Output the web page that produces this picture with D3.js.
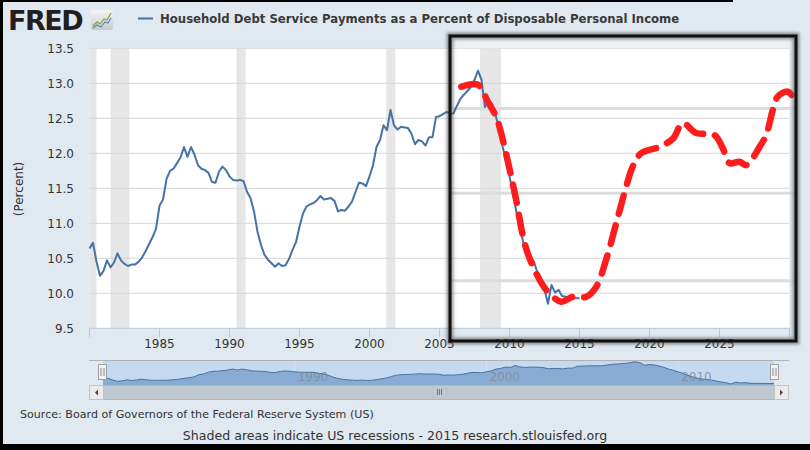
<!DOCTYPE html>
<html>
<head>
<meta charset="utf-8">
<script src="https://cdn.jsdelivr.net/npm/d3@7"></script>
<style>
    body { margin: 0; background: #e1e9f0; }
    svg { display: block; }
    text { font-family: "DejaVu Sans", Verdana, sans-serif; }
</style>
</head>
<body>
<script>
'use strict';

// quarterly observations, 1980 Q1 .. 2015 Q1
var startYear = 1980;
var debtService = [
    10.64, 10.72, 10.45, 10.25,
    10.32, 10.47, 10.37, 10.44,
    10.57, 10.47, 10.42, 10.39,
    10.41, 10.41, 10.45, 10.51,
    10.60, 10.70, 10.80, 10.92,
    11.25, 11.34, 11.63, 11.75,
    11.78, 11.86, 11.94, 12.09,
    11.95, 12.09, 11.98, 11.83,
    11.78, 11.76, 11.72, 11.59,
    11.58, 11.74, 11.81, 11.76,
    11.67, 11.62, 11.61, 11.62,
    11.60, 11.45, 11.36, 11.17,
    10.88, 10.69, 10.55, 10.48,
    10.43, 10.38, 10.43, 10.39,
    10.40, 10.49, 10.62, 10.73,
    10.95, 11.14, 11.24, 11.27,
    11.29, 11.33, 11.39, 11.34,
    11.35, 11.36, 11.32, 11.17,
    11.19, 11.18, 11.24, 11.31,
    11.45, 11.58, 11.57, 11.53,
    11.67, 11.83, 12.09, 12.19,
    12.40, 12.33, 12.62, 12.40,
    12.34, 12.38, 12.37, 12.36,
    12.28, 12.13, 12.19, 12.17,
    12.11, 12.23, 12.23, 12.52,
    12.53, 12.56, 12.59, 12.57,
    12.57, 12.68, 12.78, 12.84,
    12.89, 12.95, 13.05, 13.18,
    13.05, 12.66, 12.76, 12.71,
    12.55, 12.35, 12.10, 11.90,
    11.67, 11.42, 11.15, 10.92,
    10.72, 10.60, 10.52, 10.45,
    10.29, 10.15, 10.05, 9.85,
    10.12, 10.01, 10.05, 9.96,
    9.95, 9.94, 9.93, 9.93,
    9.93
];

// hand drawn projection over the chart
var projectionYears = [2006.55, 2007.74, 2008.45, 2009.05, 2009.4, 2010.12, 2010.48, 2011.14,
    2011.9, 2012.62, 2013.69, 2014.52, 2015.48, 2016.19, 2016.9, 2017.62, 2018.33, 2018.8,
    2019.4, 2020.7, 2021.67, 2022.38, 2023.33, 2024.64, 2025.24, 2025.71, 2026.43, 2026.9,
    2027.86, 2028.33, 2028.81, 2029.16, 2029.88, 2030.4];
var projectionValues = [12.95, 12.98, 12.74, 12.52, 12.29, 11.67, 11.33, 10.67,
    10.29, 10.05, 9.88, 9.95, 9.95, 10.09, 10.48, 11.0, 11.52, 11.81,
    12.0, 12.09, 12.21, 12.43, 12.29, 12.26, 12.07, 11.86, 11.88, 11.83,
    12.09, 12.26, 12.62, 12.81, 12.88, 12.76];

// faint lines of the pasted overlay
var overlayGuides = [12.64, 11.43, 10.18];

var recessions = [[1980.0, 1980.5], [1981.5, 1982.85], [1990.5, 1991.15], [2001.2, 2001.85], [2007.9, 2009.4]];
var yTicks = [9.5, 10.0, 10.5, 11.0, 11.5, 12.0, 12.5, 13.0, 13.5];
var xTicks = [1980, 1985, 1990, 1995, 2000, 2005, 2010, 2015, 2020, 2025, 2030];
var xLabels = [1985, 1990, 1995, 2000, 2005, 2010, 2015, 2020, 2025];
var navLabels = [1990, 2000, 2010];

var title = 'Household Debt Service Payments as a Percent of Disposable Personal Income';
var source = 'Source: Board of Governors of the Federal Reserve System (US)';
var footer = 'Shaded areas indicate US recessions - 2015 research.stlouisfed.org';

var series = debtService.map(function (v, i) {
    return {year: startYear + i / 4, value: v};
});
var projection = projectionYears.map(function (yr, i) {
    return {year: yr, value: projectionValues[i]};
});

var width = 810, height = 450;
var plot = {left: 89.5, right: 789.5, top: 48.3, bottom: 328.3};
var box = {x: 450, y: 36, w: 346, h: 305};

var x = d3.scaleLinear().domain([1980, 2030]).range([plot.left, plot.right]);
var y = d3.scaleLinear().domain([9.5, 13.5]).range([plot.bottom, plot.top]);

var svg = d3.select('body').append('svg')
    .attr('width', width)
    .attr('height', height);

var defs = svg.append('defs');
defs.append('filter').attr('id', 'soft')
    .append('feGaussianBlur').attr('stdDeviation', 0.7);
defs.append('filter').attr('id', 'shadow')
    .attr('x', '-5%').attr('y', '-5%').attr('width', '110%').attr('height', '110%')
    .append('feGaussianBlur').attr('stdDeviation', 1.6);
defs.append('clipPath').attr('id', 'boxclip')
    .append('rect')
    .attr('x', box.x).attr('y', box.y).attr('width', box.w).attr('height', box.h);
var iconGrad = defs.append('linearGradient').attr('id', 'icon')
    .attr('x1', 0).attr('y1', 0).attr('x2', 0).attr('y2', 1);
iconGrad.append('stop').attr('offset', 0).attr('stop-color', '#f4f4f4');
iconGrad.append('stop').attr('offset', 1).attr('stop-color', '#c9c9c9');

svg.append('rect')
    .attr('width', width).attr('height', height)
    .attr('fill', '#e1e9f0');

// header: logo + legend title
svg.append('text')
    .attr('x', 8).attr('y', 30)
    .attr('font-size', 27).attr('font-weight', 'bold')
    .attr('letter-spacing', -1.5)
    .attr('fill', '#231f20')
    .text('FRED');
svg.append('rect')
    .attr('x', 91).attr('y', 10).attr('width', 22).attr('height', 20).attr('rx', 2)
    .attr('fill', 'url(#icon)');
svg.append('path')
    .attr('d', 'M93,26 L97,22 L100,24 L104,19 L107,20 L111,13')
    .attr('fill', 'none').attr('stroke', '#7aa83c').attr('stroke-width', 1.2);
svg.append('path')
    .attr('d', 'M93,28 L97,25 L101,27 L105,22 L108,23 L111,18')
    .attr('fill', 'none').attr('stroke', '#5b86b8').attr('stroke-width', 1.2);

svg.append('line')
    .attr('x1', 138).attr('x2', 153).attr('y1', 18.5).attr('y2', 18.5)
    .attr('stroke', '#4572a7').attr('stroke-width', 2);
svg.append('text')
    .attr('x', 160).attr('y', 23)
    .attr('font-size', 11.7).attr('font-weight', 'bold')
    .attr('fill', '#3a3a3a')
    .text(title);

// plot area
svg.append('rect')
    .attr('x', plot.left).attr('y', plot.top)
    .attr('width', plot.right - plot.left).attr('height', plot.bottom - plot.top)
    .attr('fill', '#ffffff');

svg.append('g').selectAll('rect')
    .data(recessions)
    .enter()
    .append('rect')
    .attr('x', function (d) { return x(d[0]); })
    .attr('width', function (d) { return x(d[1]) - x(d[0]); })
    .attr('y', plot.top)
    .attr('height', plot.bottom - plot.top)
    .attr('fill', '#e6e6e6');

svg.append('g').selectAll('line')
    .data(yTicks.slice(1))
    .enter()
    .append('line')
    .attr('x1', plot.left).attr('x2', plot.right)
    .attr('y1', function (d) { return y(d); })
    .attr('y2', function (d) { return y(d); })
    .attr('stroke', '#d8d8d8').attr('stroke-width', 1);

// y axis labels
svg.append('g').selectAll('text')
    .data(yTicks)
    .enter()
    .append('text')
    .attr('x', 74)
    .attr('y', function (d) { return y(d) + 4.5; })
    .attr('text-anchor', 'end')
    .attr('font-size', 12)
    .attr('fill', '#333')
    .text(function (d) { return d3.format('.1f')(d); });

svg.append('text')
    .attr('transform', 'translate(23,189) rotate(-90)')
    .attr('text-anchor', 'middle')
    .attr('font-size', 12)
    .attr('fill', '#333')
    .text('(Percent)');

// x axis
svg.append('line')
    .attr('x1', plot.left).attr('x2', plot.right)
    .attr('y1', plot.bottom).attr('y2', plot.bottom)
    .attr('stroke', '#b8c8da');
svg.append('g').selectAll('line')
    .data(xTicks)
    .enter()
    .append('line')
    .attr('x1', function (d) { return x(d); })
    .attr('x2', function (d) { return x(d); })
    .attr('y1', plot.bottom).attr('y2', plot.bottom + 9)
    .attr('stroke', '#b8c8da');
svg.append('g').selectAll('text')
    .data(xLabels)
    .enter()
    .append('text')
    .attr('x', function (d) { return x(d); })
    .attr('y', plot.bottom + 20)
    .attr('text-anchor', 'middle')
    .attr('font-size', 12)
    .attr('fill', '#333')
    .text(function (d) { return d; });

// overlay box background pieces
svg.append('rect')
    .attr('x', box.x).attr('y', box.y)
    .attr('width', plot.right - box.x).attr('height', plot.top - box.y)
    .attr('fill', '#eef1f4');
svg.append('g')
    .attr('clip-path', 'url(#boxclip)')
    .selectAll('line')
    .data(overlayGuides)
    .enter()
    .append('line')
    .attr('x1', box.x).attr('x2', box.x + box.w)
    .attr('y1', function (d) { return y(d); })
    .attr('y2', function (d) { return y(d); })
    .attr('stroke', '#dcdcdc').attr('stroke-width', 3);

// data line
var line = d3.line()
    .x(function (d) { return x(d.year); })
    .y(function (d) { return y(d.value); });

svg.append('path')
    .datum(series)
    .attr('d', line)
    .attr('fill', 'none')
    .attr('stroke', '#4572a7')
    .attr('stroke-width', 2)
    .attr('stroke-linejoin', 'round');

// red projection
var curve = d3.line()
    .x(function (d) { return x(d.year); })
    .y(function (d) { return y(d.value); })
    .curve(d3.curveCatmullRom);

svg.append('g')
    .attr('clip-path', 'url(#boxclip)')
    .append('path')
    .datum(projection)
    .attr('d', curve)
    .attr('fill', 'none')
    .attr('stroke', '#ff1f1f')
    .attr('stroke-width', 6.5)
    .attr('stroke-dasharray', '19,12')
    .attr('stroke-linecap', 'round')
    .attr('filter', 'url(#soft)');

// the black frame of the overlay
svg.append('rect')
    .attr('x', box.x).attr('y', box.y).attr('width', box.w).attr('height', box.h)
    .attr('fill', 'none')
    .attr('stroke', '#555').attr('stroke-width', 7).attr('opacity', 0.6)
    .attr('filter', 'url(#shadow)');
svg.append('rect')
    .attr('x', box.x).attr('y', box.y).attr('width', box.w).attr('height', box.h)
    .attr('fill', 'none')
    .attr('stroke', '#111').attr('stroke-width', 3);

// navigator
var nav = {left: 89, right: 789, inLeft: 103, inRight: 774, top: 361, bottom: 385, barBottom: 399};
var nx = d3.scaleLinear().domain([1980, 2015]).range([nav.inLeft, nav.inRight]);
var ny = d3.scaleLinear().domain([9.7, 13.3]).range([nav.bottom, nav.top]);

svg.append('rect')
    .attr('x', nav.inLeft).attr('y', nav.top)
    .attr('width', nav.inRight - nav.inLeft).attr('height', nav.bottom - nav.top)
    .attr('fill', '#c5daf0');
svg.append('g').selectAll('line')
    .data(navLabels)
    .enter()
    .append('line')
    .attr('x1', function (d) { return nx(d); })
    .attr('x2', function (d) { return nx(d); })
    .attr('y1', nav.top).attr('y2', nav.bottom)
    .attr('stroke', '#d6e3f1');

var navArea = d3.area()
    .x(function (d) { return nx(d.year); })
    .y0(nav.bottom)
    .y1(function (d) { return ny(d.value); });
svg.append('path')
    .datum(series)
    .attr('d', navArea)
    .attr('fill', '#88abd4');
svg.append('path')
    .datum(series)
    .attr('d', line.x(function (d) { return nx(d.year); }).y(function (d) { return ny(d.value); }))
    .attr('fill', 'none')
    .attr('stroke', '#4572a7')
    .attr('stroke-width', 1);

svg.append('g').selectAll('text')
    .data(navLabels)
    .enter()
    .append('text')
    .attr('x', function (d) { return nx(d) + 3; })
    .attr('y', nav.bottom - 4)
    .attr('font-size', 12)
    .attr('fill', '#7f8b99')
    .attr('fill-opacity', 0.85)
    .text(function (d) { return d; });

svg.append('line')
    .attr('x1', nav.left).attr('x2', nav.right)
    .attr('y1', nav.top - 0.5).attr('y2', nav.top - 0.5)
    .attr('stroke', '#b2b2b2');

// scrollbar
svg.append('rect')
    .attr('x', nav.left + 0.5).attr('y', nav.bottom + 0.5)
    .attr('width', nav.right - nav.left - 1).attr('height', nav.barBottom - nav.bottom)
    .attr('fill', '#bfc7d1').attr('stroke', '#b2b8c0');
[nav.left, nav.inRight].forEach(function (bx, i) {
    svg.append('rect')
        .attr('x', bx + 0.5).attr('y', nav.bottom + 0.5)
        .attr('width', nav.inLeft - nav.left).attr('height', nav.barBottom - nav.bottom)
        .attr('fill', '#ebebeb').attr('stroke', '#c4c4c4');
    var cx = bx + (nav.inLeft - nav.left) / 2 + 0.5;
    var cy = (nav.bottom + nav.barBottom) / 2 + 0.5;
    var pts = i === 0
        ? [[cx + 1.5, cy - 3], [cx + 1.5, cy + 3], [cx - 1.5, cy]]
        : [[cx - 1.5, cy - 3], [cx - 1.5, cy + 3], [cx + 1.5, cy]];
    svg.append('polygon')
        .attr('points', pts.join(' '))
        .attr('fill', '#444');
});
[-2, 0, 2].forEach(function (dx) {
    svg.append('line')
        .attr('x1', 439.5 + dx).attr('x2', 439.5 + dx)
        .attr('y1', 389).attr('y2', 395)
        .attr('stroke', '#777');
});

// navigator handles
[nav.inLeft, nav.inRight + 1].forEach(function (hx) {
    svg.append('rect')
        .attr('x', hx - 4.5).attr('y', 364.5).attr('width', 8).attr('height', 15)
        .attr('fill', '#f2f2f2').attr('stroke', '#a0a0a0');
    [-1.5, 1.5].forEach(function (dx) {
        svg.append('line')
            .attr('x1', hx - 0.5 + dx).attr('x2', hx - 0.5 + dx)
            .attr('y1', 368).attr('y2', 376)
            .attr('stroke', '#888');
    });
});

// footer texts
svg.append('text')
    .attr('x', 20).attr('y', 418)
    .attr('font-size', 11.1)
    .attr('fill', '#333')
    .text(source);
svg.append('text')
    .attr('x', 395).attr('y', 440)
    .attr('text-anchor', 'middle')
    .attr('font-size', 12.6)
    .attr('fill', '#333')
    .text(footer);

// screenshot frame
svg.append('rect').attr('x', 0).attr('y', 0).attr('width', 3).attr('height', height).attr('fill', '#000');
svg.append('rect').attr('x', 0).attr('y', 0).attr('width', 733).attr('height', 2).attr('fill', '#000');
svg.append('rect').attr('x', 0).attr('y', 444).attr('width', width).attr('height', 6).attr('fill', '#000');
</script>
</body>
</html>
